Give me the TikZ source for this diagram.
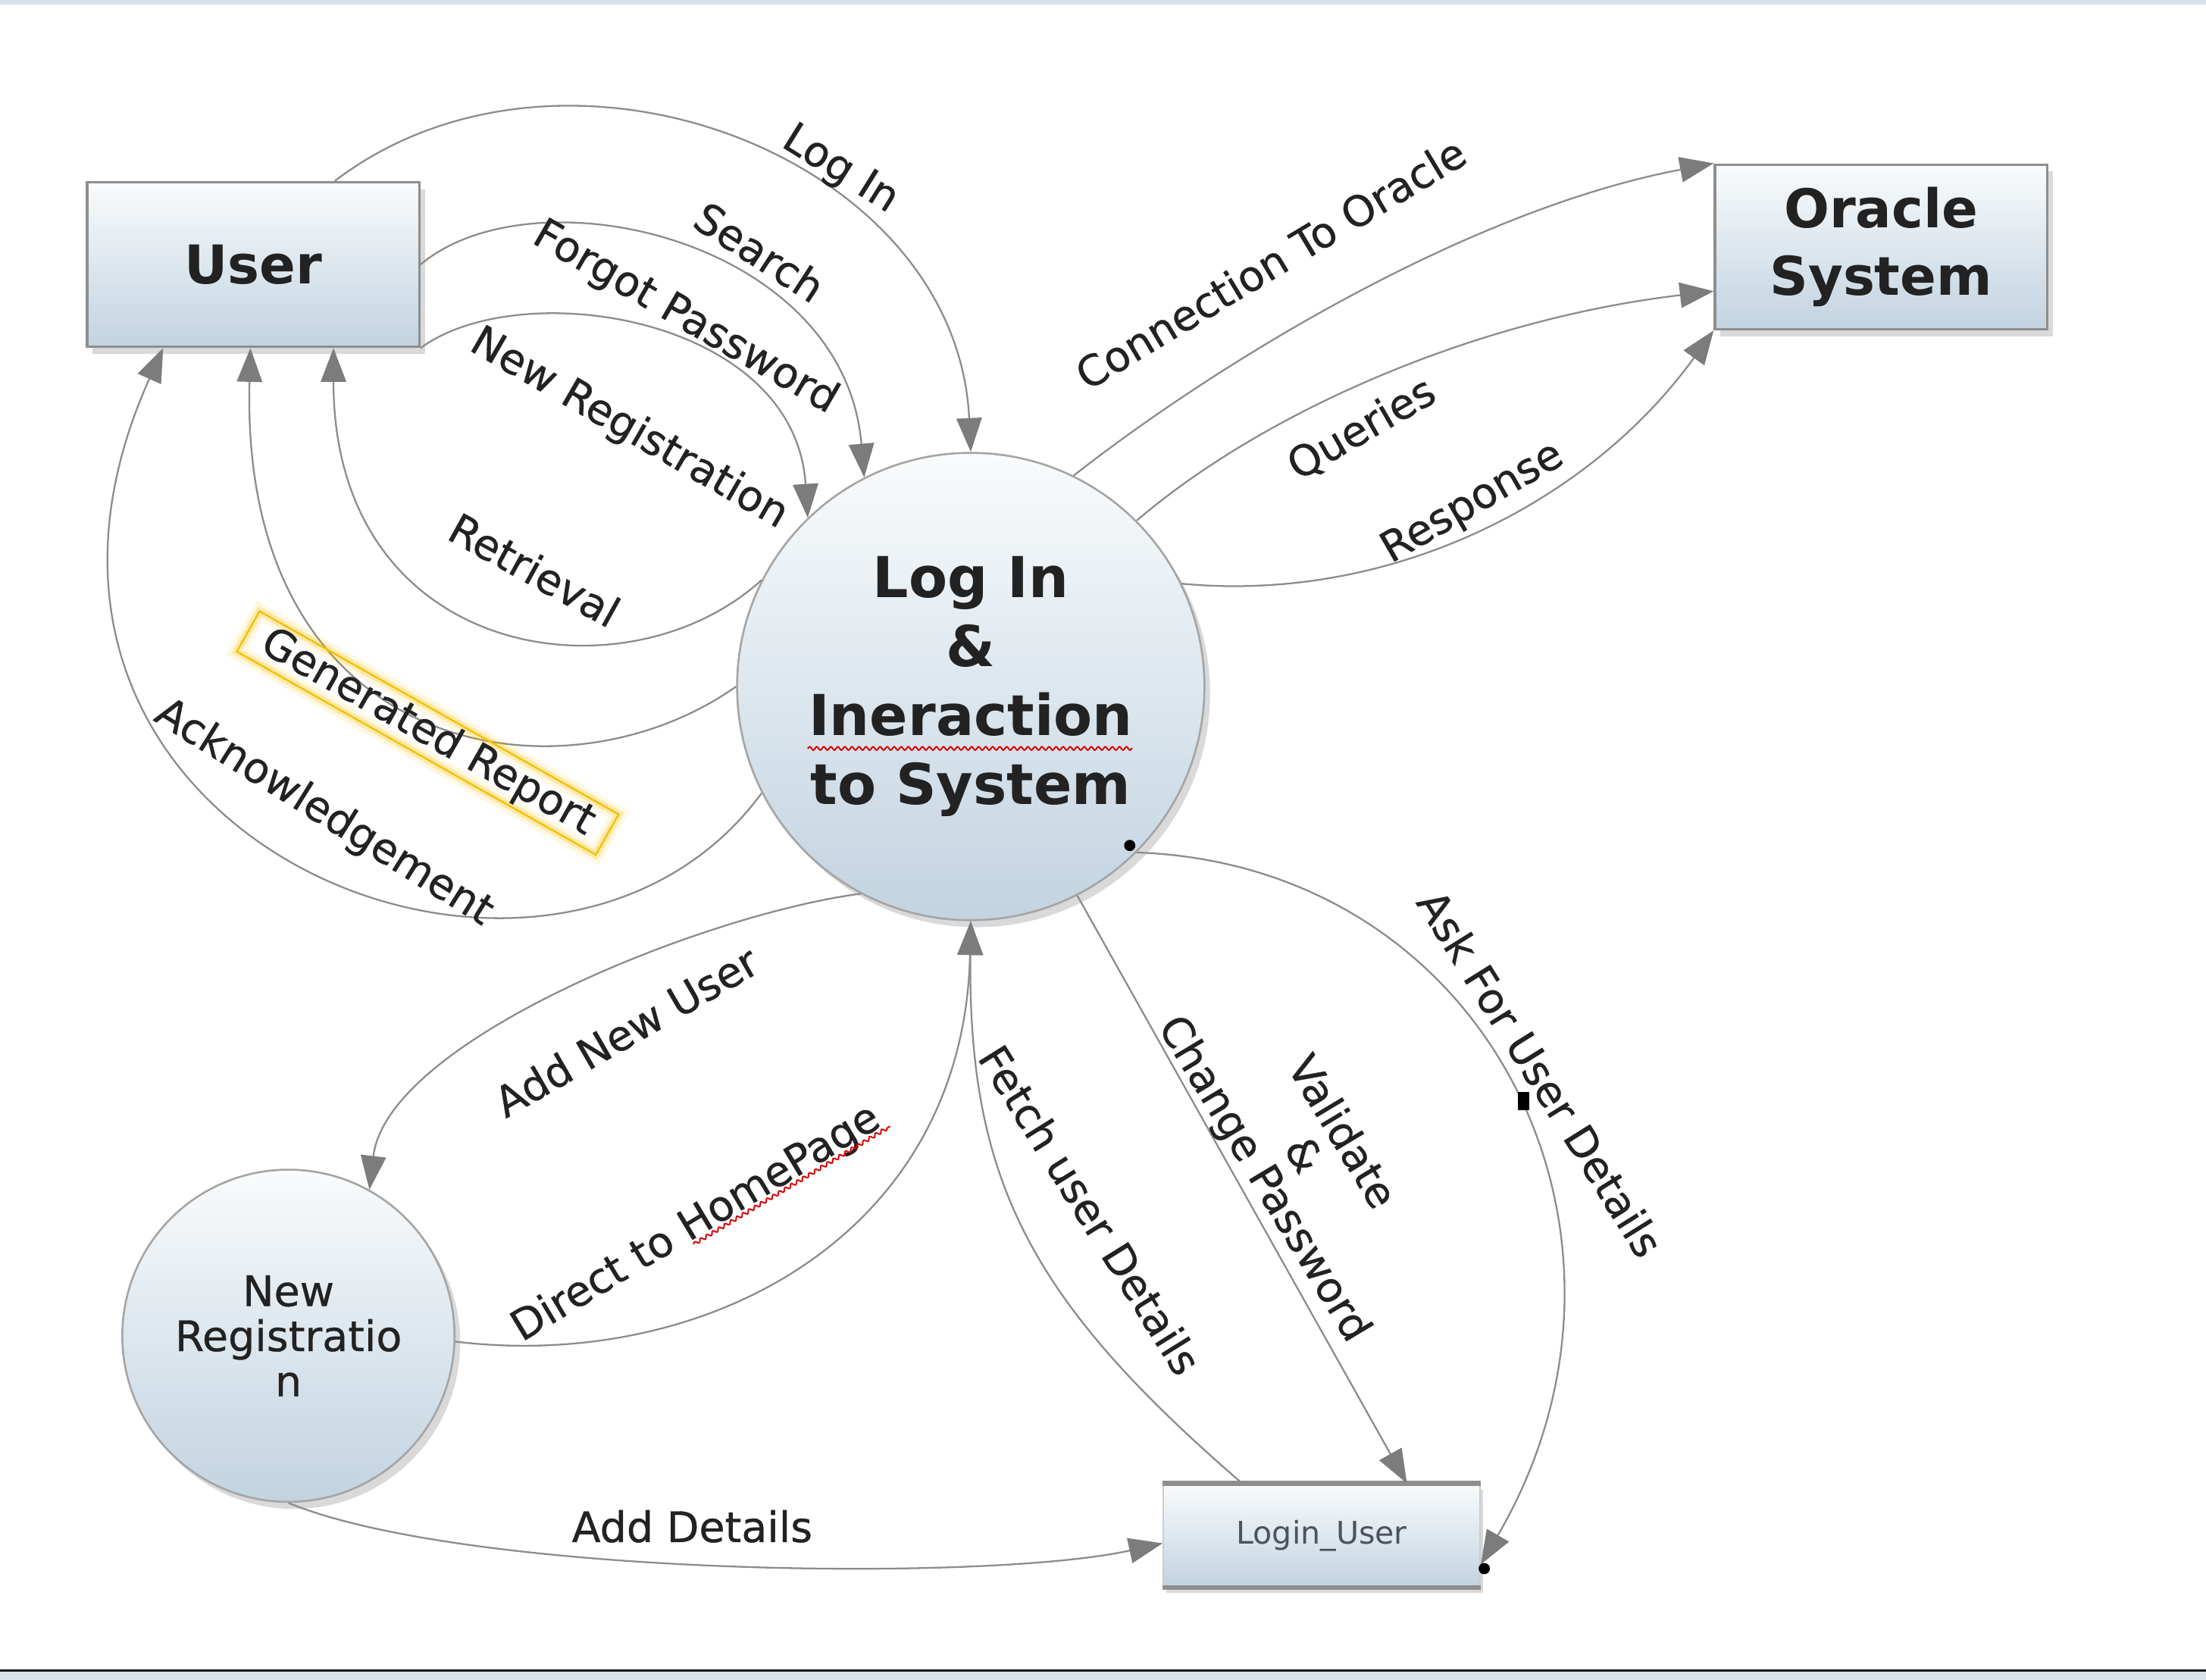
\documentclass[tikz,border=0pt]{standalone}
\usepackage{fontspec}
\setmainfont{DejaVu Sans}
\newfontfamily\flowfont[FakeBold=0.6]{DejaVu Sans}
\usetikzlibrary{arrows.meta,shadows,calc,decorations.pathmorphing}

\definecolor{boxtop}{HTML}{F9FBFC}
\definecolor{boxbot}{HTML}{C2D3E0}
\definecolor{boxedge}{HTML}{8E8E8E}
\definecolor{flowgray}{HTML}{8C8C8C}
\definecolor{tipgray}{HTML}{7C7C7C}
\definecolor{ink}{HTML}{222222}
\definecolor{storeink}{HTML}{4D535A}
\definecolor{glow}{HTML}{F4C20D}
\definecolor{band}{HTML}{D9E2EA}

\tikzstyle{entity} = [rectangle, draw = boxedge, line width = 0.5pt, top color = boxtop, bottom color = boxbot, minimum width = 2.36cm, minimum height = 1.17cm, align = center, text = ink, font = \bfseries\fontsize{10.8}{13.7}\selectfont, drop shadow = {shadow xshift = 0.04cm, shadow yshift = -0.05cm, opacity = 0.3}]
\tikzstyle{process} = [circle, draw = boxedge!80, line width = 0.4pt, top color = boxtop, bottom color = boxbot, align = center, text = ink, drop shadow = {shadow xshift = 0.04cm, shadow yshift = -0.05cm, opacity = 0.3}]
\tikzstyle{store} = [rectangle, draw = boxedge!45, line width = 0.3pt, top color = boxtop, bottom color = boxbot, minimum width = 2.25cm, minimum height = 0.73cm, text = storeink, font = \fontsize{6.3}{7.5}\selectfont, drop shadow = {shadow xshift = 0.02cm, shadow yshift = -0.04cm, opacity = 0.3}]
\tikzstyle{storeedge} = [draw = boxedge, line width = 1pt]
\tikzstyle{arrow} = [draw = flowgray, line width = 0.35pt, -{Triangle[length = 0.24cm, width = 0.18cm, color = tipgray]}]
\tikzstyle{flowtext} = [text = ink, inner sep = 1pt, align = center, font = \flowfont\fontsize{8.5}{9.1}\selectfont]
\tikzstyle{glowbox} = [draw = glow, line width = 0.4pt, inner xsep = 0.13cm, inner ysep = 0.02cm, preaction = {draw = glow, line width = 3.2pt, opacity = 0.12}, preaction = {draw = glow, line width = 1.6pt, opacity = 0.25}]
\tikzstyle{spell} = [draw = red!85!black, line width = 0.3pt, decorate, decoration = {snake, amplitude = 0.012cm, segment length = 0.05cm}]

\begin{document}
\begin{tikzpicture}[x = 0.01cm, y = -0.01cm]

    \useasboundingbox (0,0) rectangle (1568,1194);
    \fill[band] (0,0) rectangle (1568,3);
    \fill[band] (0,1188) rectangle (1568,1194);
    \draw[black!90, line width = 0.5pt] (0,1187.4) -- (1568,1187.4);

    \node(user)[entity] at (180,188) {User};
    \node(oracle)[entity] at (1337,175.5) {Oracle\\System};
    \node(main)[process, minimum size = 3.32cm, font = \bfseries\fontsize{11.4}{13.95}\selectfont] at (690,488) {Log In\\\&\\Ineraction\\to System};
    \node(reg)[process, minimum size = 2.36cm, font = \flowfont\fontsize{8.5}{9.1}\selectfont] at (205,949.5) {New\\Registratio\\n};
    \node(login)[store] at (939.5,1091.5) {Login\_User};
    \draw[storeedge] (login.north west) -- (login.north east);
    \draw[storeedge] (login.south west) -- (login.south east);

    \draw[arrow]([xshift = 0.58cm]user.north) .. controls (400,5) and (680,110) .. (main.90);
    \draw[arrow](user.east) .. controls (380,120) and (600,170) .. (main.117);
    \draw[arrow](user.south east) .. controls (370,195) and (565,225) .. (main.134);
    \draw[arrow](main.153) .. controls (445,500) and (237,470) .. ([xshift = 0.57cm]user.south);
    \draw[arrow](main.180) .. controls (400,575) and (170,540) .. ([xshift = -0.02cm]user.south);
    \draw[arrow](main.207) .. controls (390,770) and (-40,595) .. ([xshift = -0.64cm]user.south);

    \draw[arrow](main.64) .. controls (860,262) and (1040,150) .. (oracle.north west);
    \draw[arrow](main.45) .. controls (898,293) and (1048,227) .. ([yshift = -0.315cm]oracle.west);
    \draw[arrow](main.26) .. controls (989,429) and (1130,357) .. (oracle.south west);

    \draw[arrow](main.242) .. controls (500,650) and (275,740) .. (reg.61);
    \draw[arrow](reg.-2) .. controls (500,975) and (685,880) .. (main.270);
    \draw[arrow]([xshift = -0.565cm]login.north) .. controls (733,925) and (688,840) .. (main.270);
    \draw[arrow](main.297) -- ([xshift = 0.605cm]login.north);
    \draw[arrow](main.-45) .. controls (1060,615) and (1188,880) .. ([yshift = -0.205cm]login.east);
    \draw[arrow](reg.south) .. controls (330,1120) and (700,1125) .. ([yshift = -0.055cm]login.west);

    \node(tLogIn)[flowtext, rotate = -32] at (597,121) {Log In};
    \node(tSearch)[flowtext, rotate = -33] at (540,179) {Search};
    \node(tForgot)[flowtext, rotate = -30] at (487,226) {Forgot Password};
    \node(tNewReg)[flowtext, rotate = -30] at (447,305) {New Registration};
    \node(tRetrieval)[flowtext, rotate = -29] at (380,405) {Retrieval};
    \node(tReport)[flowtext, glowbox, rotate = -29.5] at (304,521) {Generated Report};
    \node(tAck)[flowtext, rotate = -32] at (230,578) {Acknowledgement};
    \node(tConnect)[flowtext, rotate = 31] at (903,187) {Connection To Oracle};
    \node(tQueries)[flowtext, rotate = 30] at (968,305) {Queries};
    \node(tResponse)[flowtext, rotate = 30] at (1047,358) {Response};
    \node(tAddUser)[flowtext, rotate = 30] at (445,733) {Add New User};
    \node(tHome)[flowtext, rotate = 31] at (495,870) {Direct to HomePage};
    \node(tFetch)[flowtext, rotate = -58] at (775,860) {Fetch user Details};
    \node(tValidate)[flowtext, rotate = -59] at (925,822) {Validate\\\&\\Change Password};
    \node(tAsk)[flowtext, rotate = -58] at (1095,763) {Ask For User Details};
    \node(tDetails)[flowtext] at (492,1085) {Add Details};

    \draw[spell] (574,532) -- (805,532);
    \coordinate(hpa) at ($(tHome.base west)!0.3!(tHome.south west)$);
    \coordinate(hpb) at ($(tHome.base east)!0.3!(tHome.south east)$);
    \draw[spell] ($(hpa)!0.47!(hpb)$) -- (hpb);

    \fill[black] (803,601) circle (0.04cm);
    \fill[black] (1079,776) rectangle (1087,789);
    \fill[black] (1055,1115) circle (0.04cm);

\end{tikzpicture}
\end{document}
